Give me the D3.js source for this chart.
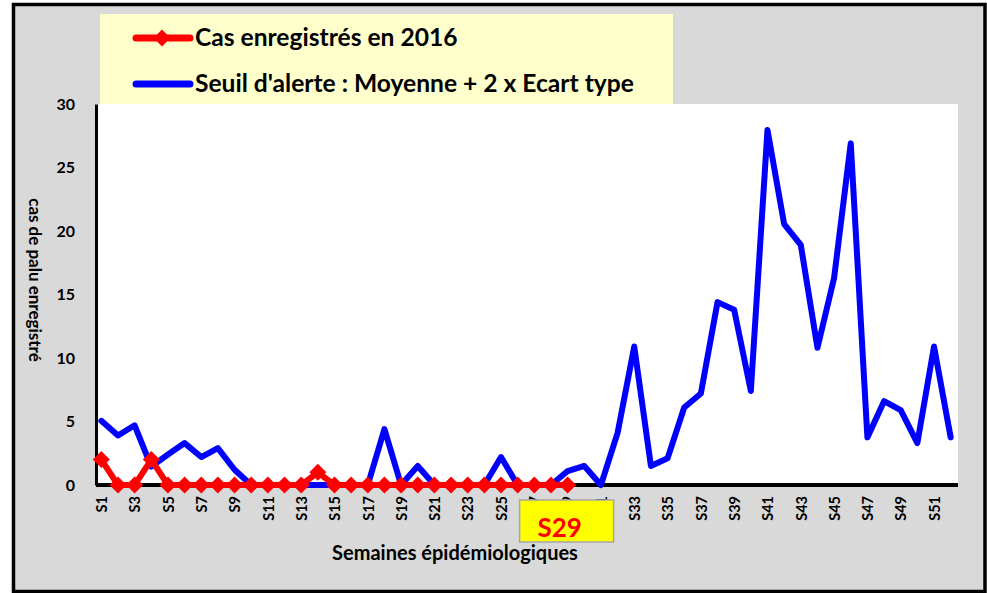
<!DOCTYPE html>
<html><head><meta charset="utf-8">
<script src="https://cdn.jsdelivr.net/npm/d3@7"></script>
<style>body{margin:0;background:#fff}svg{display:block}text{font-family:Lato,"Open Sans",sans-serif;font-weight:bold}</style>
</head><body><svg id="c" width="987" height="593"></svg>
<script>
const weeks = d3.range(1,53).map(i=>"S"+i);
const seuil = [5.05,3.9,4.7,1.45,2.4,3.3,2.2,2.9,1.2,0,0,0,0,0,0,0,0,4.4,0,1.5,0,0,0,0,2.2,0,0,0,1.1,1.5,0,4.1,10.9,1.5,2.1,6.1,7.2,14.4,13.8,7.4,27.95,20.55,18.9,10.8,16.3,26.9,3.75,6.6,5.9,3.3,10.9,3.75];
const cas2016 = [2,0,0,2,0,0,0,0,0,0,0,0,0,1,0,0,0,0,0,0,0,0,0,0,0,0,0,0,0];
const yTicks = [0,5,10,15,20,25,30];
const legendLabels = ["Cas enregistrés en 2016","Seuil d'alerte : Moyenne + 2 x Ecart type"];
const xTitle = "Semaines épidémiologiques";
const yTitle = "cas de palu enregistré";
const currentWeek = "S29";

const svg = d3.select("#c");
svg.append("rect").attr("x",13.5).attr("y",4.5).attr("width",971.5).attr("height",587).attr("fill","#d9d9d9").attr("stroke","#000").attr("stroke-width",3.5);

const L=96,R=958,T=104,B=485;
svg.append("rect").attr("x",L).attr("y",T).attr("width",R-L).attr("height",B-T).attr("fill","#fff");

const x = d3.scalePoint().domain(weeks).range([93,959]).padding(0.5);
const y = d3.scaleLinear().domain([0,30]).range([B,T]);

const fontCss = sel => sel.style("font-family","Lato,sans-serif").style("font-weight","bold").attr("fill","#000");

// y axis
const ya = svg.append("g").attr("transform",`translate(${L},0)`).call(d3.axisLeft(y).tickValues(yTicks).tickSize(0).tickPadding(21));
ya.select(".domain").attr("stroke","#000").attr("stroke-width",3);
ya.selectAll("text").attr("font-size",16).call(fontCss);

// x axis
const xa = svg.append("g").attr("transform",`translate(0,${B})`).call(d3.axisBottom(x).tickSize(0).tickFormat((d,i)=> i%2===0? d : ""));
xa.select(".domain").attr("stroke","#000").attr("stroke-width",4).attr("d",`M${L},0H${R}`);
xa.selectAll("text").attr("font-size",14.5).call(fontCss)
  .attr("transform","rotate(-90)").attr("text-anchor","end").attr("x",-11).attr("y",0).attr("dy","0.36em");

// lines
const line = d3.line().x((d,i)=>x(weeks[i])).y(d=>y(d));
svg.append("path").datum(seuil).attr("d",line).attr("fill","none").attr("stroke","#0000ff").attr("stroke-width",6).attr("stroke-linejoin","round").attr("stroke-linecap","round");
svg.append("path").datum(cas2016).attr("d",line).attr("fill","none").attr("stroke","#ff0000").attr("stroke-width",6).attr("stroke-linejoin","round");
const diamond = "M0,-8.5L8.5,0L0,8.5L-8.5,0Z";
svg.selectAll(".m").data(cas2016).enter().append("path").attr("d",diamond)
  .attr("transform",(d,i)=>`translate(${x(weeks[i])},${y(d)})`).attr("fill","#ff0000");

// current week box
const cx = x(currentWeek);
svg.append("rect").attr("x",cx-48).attr("y",500).attr("width",94).attr("height",42).attr("fill","#ffff00").attr("stroke","#a6a6a6").attr("stroke-width",1.5);
svg.append("text").attr("x",cx-8).attr("y",537).attr("text-anchor","middle").attr("font-size",26).attr("fill","#ff0000").text(currentWeek);

// titles
svg.append("text").attr("x",455).attr("y",560).attr("text-anchor","middle").attr("font-size",20).attr("fill","#000").text(xTitle);
svg.append("text").attr("transform","translate(29,280) rotate(90)").attr("text-anchor","middle").attr("font-size",17).attr("fill","#000").text(yTitle);

// legend
svg.append("rect").attr("x",100).attr("y",14).attr("width",573).attr("height",90).attr("fill","#ffffcc");
const lg = [{c:"#ff0000",y:38,m:true},{c:"#0000ff",y:84,m:false}];
lg.forEach((l,i)=>{
  svg.append("line").attr("x1",136).attr("x2",190).attr("y1",l.y).attr("y2",l.y).attr("stroke",l.c).attr("stroke-width",7).attr("stroke-linecap","round");
  if(l.m) svg.append("path").attr("d",diamond).attr("transform",`translate(162,${l.y})`).attr("fill",l.c);
  svg.append("text").attr("x",195).attr("y",l.y+8).attr("font-size",24.6).attr("fill","#000").text(legendLabels[i]);
});
</script></body></html>
